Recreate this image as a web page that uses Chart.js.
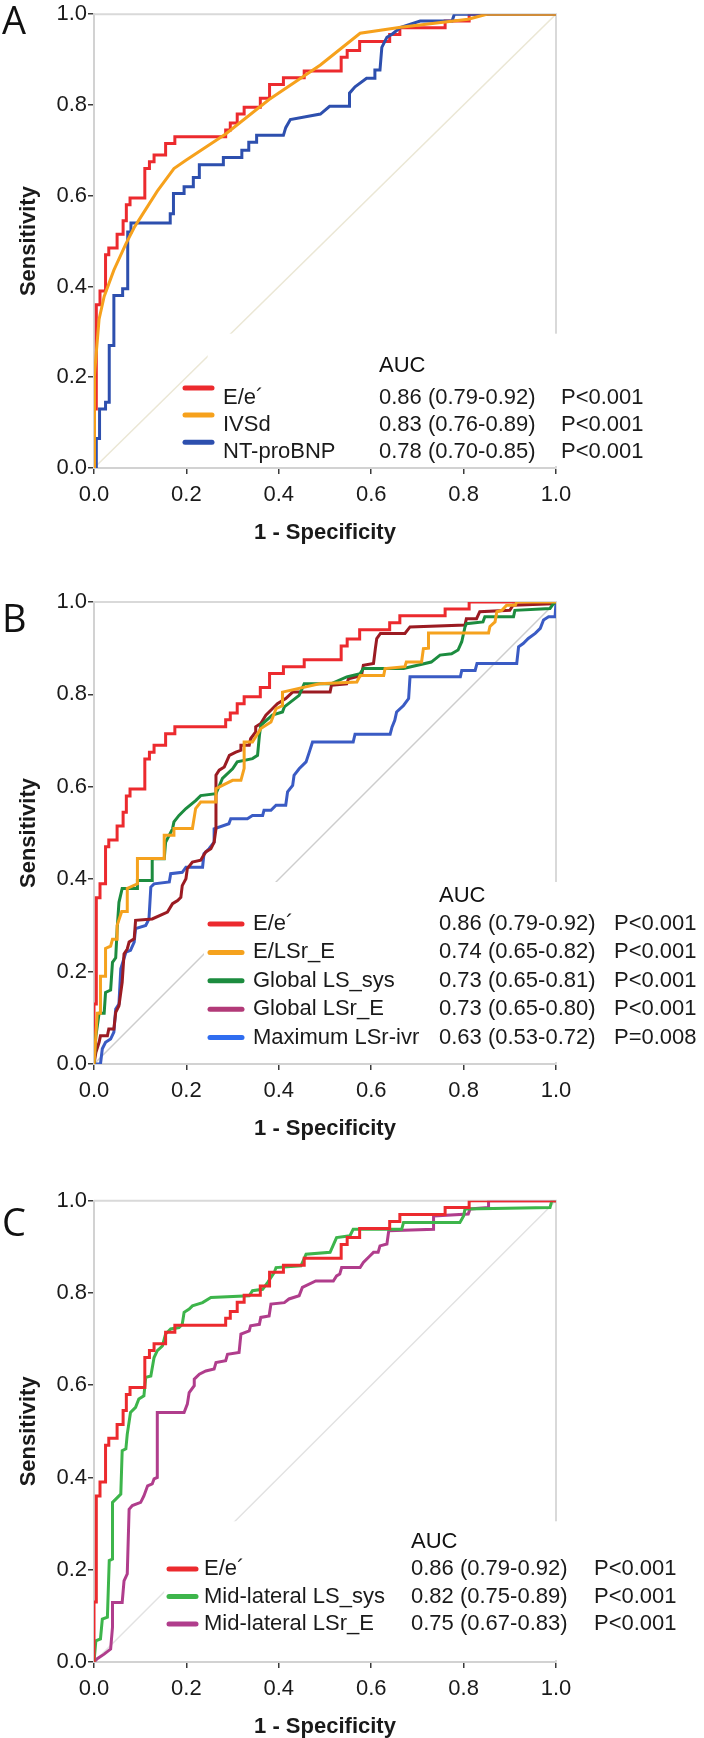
<!DOCTYPE html>
<html>
<head>
<meta charset="utf-8">
<script src="https://cdn.jsdelivr.net/npm/chart.js@4.4.1/dist/chart.umd.min.js"></script>
<style>
  html, body { margin: 0; padding: 0; background: #fff; }
  body { width: 704px; height: 1738px; position: relative; overflow: hidden; }
  canvas { position: absolute; left: 0; }
</style>
</head>
<body>
<canvas id="rocA" width="704" height="548" style="top:0px"></canvas>
<canvas id="rocB" width="704" height="584" style="top:560px"></canvas>
<canvas id="rocC" width="704" height="600" style="top:1142px"></canvas>

<script>
// ---- data ----
const axisTicks = [0, 0.2, 0.4, 0.6, 0.8, 1.0];
const chanceX = [0, 1];
const chanceY = [0, 1];

// E/e' curve, identical in all three panels
const eeX = [0,0,0.005,0.005,0.013,0.013,0.025,0.025,0.032,0.032,0.05,0.05,0.063,0.063,0.07,0.07,0.078,0.078,0.11,0.11,0.12,0.12,0.13,0.13,0.155,0.155,0.175,0.175,0.285,0.285,0.295,0.295,0.31,0.31,0.325,0.325,0.36,0.36,0.38,0.38,0.41,0.41,0.455,0.455,0.535,0.535,0.548,0.548,0.575,0.575,0.64,0.64,0.662,0.662,0.76,0.76,0.812,0.812,1];
const eeY = [0,0.13,0.13,0.36,0.36,0.39,0.39,0.47,0.47,0.485,0.485,0.515,0.515,0.545,0.545,0.58,0.58,0.595,0.595,0.66,0.66,0.675,0.675,0.69,0.69,0.715,0.715,0.73,0.73,0.745,0.745,0.76,0.76,0.78,0.78,0.795,0.795,0.815,0.815,0.845,0.845,0.86,0.86,0.875,0.875,0.905,0.905,0.92,0.92,0.94,0.94,0.955,0.955,0.97,0.97,0.985,0.985,1,1];

// panel A
const ivsdX = [0,0,0.002,0.011,0.022,0.043,0.069,0.087,0.105,0.137,0.173,0.199,0.285,0.379,0.49,0.576,0.664,0.81,0.85,1];
const ivsdY = [0,0.15,0.205,0.328,0.378,0.436,0.494,0.53,0.559,0.61,0.66,0.678,0.736,0.812,0.888,0.958,0.971,0.989,1,1];
const bnpX = [0,0.005,0.005,0.012,0.012,0.025,0.025,0.033,0.033,0.043,0.043,0.062,0.062,0.073,0.073,0.08,0.08,0.165,0.165,0.172,0.172,0.195,0.195,0.215,0.215,0.228,0.228,0.28,0.28,0.32,0.32,0.335,0.335,0.352,0.352,0.41,0.415,0.425,0.49,0.51,0.553,0.553,0.565,0.59,0.608,0.608,0.619,0.623,0.634,0.645,0.664,0.706,0.775,0.78,1];
const bnpY = [0,0,0.065,0.065,0.13,0.13,0.145,0.145,0.27,0.27,0.38,0.38,0.395,0.395,0.52,0.52,0.54,0.54,0.56,0.56,0.605,0.605,0.62,0.62,0.64,0.64,0.668,0.668,0.684,0.684,0.7,0.7,0.718,0.718,0.733,0.733,0.75,0.768,0.78,0.797,0.797,0.826,0.84,0.859,0.859,0.877,0.877,0.927,0.949,0.956,0.971,0.985,0.985,1,1];

// panel B
const elsrX = [0,0.003,0.007,0.014,0.014,0.025,0.025,0.036,0.04,0.05,0.05,0.06,0.072,0.072,0.094,0.094,0.152,0.152,0.173,0.173,0.213,0.22,0.231,0.264,0.264,0.278,0.3,0.318,0.325,0.325,0.343,0.361,0.383,0.394,0.408,0.408,0.488,0.569,0.576,0.627,0.63,0.673,0.676,0.709,0.713,0.724,0.724,0.854,0.857,0.868,0.872,0.883,0.893,0.912,0.915,1];
const elsrY = [0,0.045,0.11,0.11,0.19,0.19,0.25,0.255,0.27,0.27,0.3,0.33,0.33,0.38,0.39,0.445,0.445,0.495,0.495,0.51,0.51,0.553,0.567,0.567,0.596,0.603,0.614,0.614,0.64,0.697,0.697,0.726,0.74,0.769,0.776,0.805,0.823,0.827,0.841,0.841,0.856,0.86,0.87,0.87,0.899,0.9,0.933,0.933,0.947,0.957,0.979,0.982,0.993,0.993,1,1];
const glsX = [0,0.004,0.011,0.022,0.025,0.036,0.04,0.047,0.05,0.054,0.061,0.094,0.094,0.126,0.126,0.152,0.155,0.17,0.173,0.184,0.199,0.22,0.231,0.264,0.278,0.3,0.31,0.343,0.354,0.358,0.361,0.386,0.408,0.412,0.444,0.455,0.513,0.547,0.576,0.583,0.67,0.73,0.749,0.774,0.788,0.796,0.803,0.806,0.842,0.846,0.908,0.911,0.987,0.994,1];
const glsY = [0,0.06,0.11,0.11,0.155,0.16,0.22,0.23,0.29,0.35,0.38,0.38,0.397,0.397,0.444,0.444,0.48,0.509,0.524,0.538,0.553,0.57,0.581,0.585,0.618,0.639,0.654,0.661,0.668,0.711,0.733,0.755,0.762,0.773,0.798,0.823,0.823,0.838,0.845,0.856,0.856,0.87,0.885,0.888,0.896,0.914,0.946,0.953,0.957,0.968,0.968,0.982,0.986,0.996,1];
const glsrX = [0,0.004,0.011,0.014,0.029,0.032,0.043,0.047,0.054,0.058,0.061,0.065,0.072,0.076,0.087,0.09,0.126,0.159,0.17,0.181,0.188,0.191,0.199,0.202,0.213,0.231,0.235,0.242,0.253,0.26,0.264,0.264,0.271,0.282,0.293,0.307,0.318,0.318,0.336,0.339,0.35,0.35,0.361,0.372,0.386,0.397,0.415,0.43,0.511,0.514,0.547,0.551,0.579,0.583,0.605,0.609,0.612,0.62,0.673,0.684,0.803,0.806,0.828,0.835,0.9,0.907,0.993,1];
const glsrY = [0,0.025,0.047,0.061,0.061,0.076,0.076,0.112,0.126,0.155,0.177,0.238,0.249,0.264,0.271,0.311,0.314,0.329,0.347,0.354,0.361,0.386,0.401,0.423,0.437,0.441,0.448,0.459,0.466,0.48,0.509,0.625,0.636,0.643,0.668,0.675,0.679,0.69,0.69,0.704,0.719,0.73,0.737,0.755,0.769,0.78,0.791,0.805,0.805,0.82,0.823,0.834,0.841,0.863,0.867,0.899,0.921,0.932,0.932,0.946,0.95,0.964,0.964,0.979,0.982,0.993,0.996,1];
const ivrX = [0,0.014,0.018,0.025,0.036,0.043,0.047,0.054,0.058,0.069,0.079,0.087,0.09,0.112,0.119,0.123,0.13,0.163,0.166,0.191,0.199,0.235,0.238,0.249,0.26,0.26,0.292,0.296,0.332,0.343,0.365,0.368,0.383,0.394,0.415,0.419,0.43,0.433,0.444,0.459,0.466,0.473,0.561,0.565,0.641,0.645,0.651,0.655,0.67,0.681,0.684,0.793,0.796,0.825,0.829,0.915,0.919,0.929,0.94,0.955,0.966,0.973,0.984,0.998,1];
const ivrY = [0,0,0.033,0.047,0.054,0.069,0.119,0.13,0.206,0.242,0.246,0.264,0.293,0.3,0.314,0.383,0.39,0.394,0.412,0.415,0.426,0.426,0.455,0.466,0.48,0.509,0.52,0.531,0.531,0.538,0.538,0.549,0.549,0.56,0.56,0.589,0.603,0.625,0.639,0.654,0.675,0.697,0.697,0.714,0.714,0.729,0.744,0.762,0.776,0.791,0.838,0.838,0.852,0.852,0.867,0.867,0.903,0.91,0.921,0.932,0.943,0.961,0.968,0.968,1];

// panel C
const mlsX = [0,0.004,0.014,0.018,0.029,0.033,0.04,0.04,0.051,0.058,0.061,0.069,0.072,0.079,0.09,0.097,0.108,0.112,0.123,0.13,0.137,0.148,0.155,0.166,0.184,0.191,0.195,0.206,0.213,0.235,0.253,0.336,0.343,0.365,0.376,0.39,0.394,0.448,0.459,0.511,0.525,0.554,0.561,0.666,0.67,0.792,0.8,0.803,0.987,0.991,1];
const mlsY = [0,0.046,0.05,0.093,0.097,0.22,0.223,0.346,0.357,0.364,0.458,0.462,0.494,0.541,0.552,0.57,0.577,0.617,0.62,0.66,0.675,0.685,0.711,0.722,0.725,0.732,0.758,0.765,0.772,0.779,0.79,0.794,0.805,0.808,0.823,0.844,0.855,0.859,0.884,0.888,0.92,0.924,0.938,0.938,0.953,0.953,0.967,0.982,0.985,1,1];
const mlsrX = [0,0.007,0.022,0.036,0.04,0.04,0.061,0.065,0.072,0.076,0.083,0.101,0.108,0.116,0.126,0.13,0.137,0.137,0.195,0.202,0.206,0.217,0.217,0.228,0.242,0.26,0.264,0.285,0.289,0.314,0.318,0.336,0.339,0.358,0.361,0.379,0.383,0.412,0.422,0.444,0.451,0.48,0.518,0.525,0.532,0.536,0.576,0.583,0.597,0.605,0.615,0.619,0.634,0.638,0.735,0.735,0.81,0.814,0.854,0.854,1];
const mlsrY = [0,0.007,0.017,0.028,0.075,0.129,0.129,0.176,0.191,0.331,0.339,0.346,0.36,0.382,0.386,0.397,0.4,0.541,0.541,0.559,0.584,0.599,0.613,0.624,0.631,0.635,0.649,0.653,0.667,0.671,0.711,0.718,0.729,0.732,0.747,0.75,0.776,0.779,0.787,0.794,0.812,0.826,0.826,0.837,0.841,0.855,0.855,0.866,0.88,0.888,0.888,0.902,0.906,0.935,0.938,0.967,0.971,0.982,0.985,1,1];

// legend texts
const namesA = ['E/e\u00b4', 'IVSd', 'NT-proBNP'];
const aucA = ['0.86 (0.79-0.92)', '0.83 (0.76-0.89)', '0.78 (0.70-0.85)'];
const pA = ['P<0.001', 'P<0.001', 'P<0.001'];
const namesB = ['E/e\u00b4', 'E/LSr_E', 'Global LS_sys', 'Global LSr_E', 'Maximum LSr-ivr'];
const aucB = ['0.86 (0.79-0.92)', '0.74 (0.65-0.82)', '0.73 (0.65-0.81)', '0.73 (0.65-0.80)', '0.63 (0.53-0.72)'];
const pB = ['P<0.001', 'P<0.001', 'P<0.001', 'P<0.001', 'P=0.008'];
const namesC = ['E/e\u00b4', 'Mid-lateral LS_sys', 'Mid-lateral LSr_E'];
const aucC = ['0.86 (0.79-0.92)', '0.82 (0.75-0.89)', '0.75 (0.67-0.83)'];
const pC = ['P<0.001', 'P<0.001', 'P<0.001'];

// ---- drawing ----
const FONT = "'Liberation Sans', Arial, sans-serif";
const INK = '#1a1a1a';
const RED = '#ec2a2e';

const pts = (xs, ys) => xs.map((x, i) => ({ x: x, y: ys[i] }));

// frame, white legend backing, legend and panel letter
const rocPanel = {
    id: 'rocPanel',
    beforeDatasetsDraw(chart) {
        const { ctx, chartArea: a } = chart;
        ctx.save();
        ctx.strokeStyle = '#d9d9d9';
        ctx.lineWidth = 2;
        ctx.beginPath();
        ctx.moveTo(a.left, a.top);
        ctx.lineTo(a.right, a.top);
        ctx.lineTo(a.right, a.bottom);
        ctx.stroke();
        ctx.restore();
    },
    afterDatasetDraw(chart, args, opts) {
        // the chance line is the last dataset, so it is drawn first
        if (args.index !== chart.data.datasets.length - 1) return;
        const { ctx, chartArea: a } = chart;
        const x0 = chart.scales.x.getPixelForValue(opts.box[0]);
        const y0 = chart.scales.y.getPixelForValue(opts.box[1]);
        ctx.save();
        ctx.fillStyle = '#fff';
        ctx.fillRect(x0, y0, chart.width - x0, a.bottom - 2 - y0);
        ctx.restore();
    },
    afterDraw(chart, args, opts) {
        const ctx = chart.ctx;
        const L = opts.legend;
        ctx.save();
        ctx.font = '38px "Open Sans", sans-serif';
        ctx.fillStyle = '#111';
        ctx.textBaseline = 'alphabetic';
        ctx.fillText(opts.letter, 2, opts.letterY);

        ctx.font = '22px ' + FONT;
        ctx.textBaseline = 'middle';
        ctx.fillText('AUC', L.valueX, L.headerY);
        L.names.forEach((name, i) => {
            const y = L.firstY + i * L.step;
            ctx.strokeStyle = L.colors[i];
            ctx.lineWidth = 5;
            ctx.lineCap = 'round';
            ctx.beginPath();
            ctx.moveTo(L.symX[0], y + L.symDy);
            ctx.lineTo(L.symX[1], y + L.symDy);
            ctx.stroke();
            ctx.fillStyle = INK;
            ctx.fillText(name, L.nameX, y);
            ctx.fillText(L.auc[i], L.valueX, y);
            ctx.fillText(L.p[i], L.pX, y);
        });
        ctx.restore();
    }
};

function curve(xs, ys, color) {
    return {
        data: pts(xs, ys),
        borderColor: color,
        borderWidth: 3,
        showLine: true,
        pointRadius: 0,
        tension: 0,
        fill: false
    };
}

function axis(title, isY) {
    return {
        type: 'linear',
        min: 0,
        max: 1,
        afterBuildTicks: s => { s.ticks = axisTicks.map(v => ({ value: v })); },
        afterFit: s => { if (isY) s.width = 94; else s.height = 80; },
        grid: { drawOnChartArea: false, drawTicks: true, tickLength: 6, color: '#3a3a3a', lineWidth: 1.5 },
        border: { display: true, color: '#d2d2d2', width: 2 },
        ticks: {
            color: INK,
            padding: isY ? 1 : 8,
            maxRotation: 0,
            autoSkip: false,
            font: { family: FONT, size: 22 },
            callback: v => v.toFixed(1)
        },
        title: {
            display: true,
            text: title,
            color: INK,
            font: { family: FONT, size: 22, weight: 'bold' },
            padding: isY ? { top: 16, bottom: 0 } : { top: 0, bottom: 2 }
        }
    };
}

function makePanel(id, cfg) {
    const datasets = cfg.curves.concat([{
        data: pts(chanceX, chanceY),
        borderColor: cfg.chanceColor,
        borderWidth: 1.5,
        showLine: true,
        pointRadius: 0,
        fill: false
    }]);
    new Chart(document.getElementById(id), {
        type: 'scatter',
        data: { datasets: datasets },
        options: {
            responsive: false,
            animation: false,
            events: [],
            layout: { padding: { top: cfg.padTop, right: 148, bottom: 0, left: 0 } },
            scales: { x: axis('1 - Specificity', false), y: axis('Sensitivity', true) },
            plugins: {
                legend: { display: false },
                tooltip: { enabled: false },
                rocPanel: { letter: cfg.letter, letterY: cfg.letterY, box: cfg.box, legend: cfg.legend }
            }
        },
        plugins: [rocPanel]
    });
}

// first dataset in each list is drawn on top
makePanel('rocA', {
    letter: 'A', letterY: 34, padTop: 6.5, box: [0.246, 0.296], chanceColor: '#ebe7d5',
    curves: [curve(ivsdX, ivsdY, '#f6a11c'), curve(bnpX, bnpY, '#2d4fae'), curve(eeX, eeY, RED)],
    legend: {
        names: namesA, auc: aucA, p: pA, colors: [RED, '#f6a11c', '#2d4fae'],
        headerY: 366, firstY: 397.5, step: 27.1, symX: [185, 212], symDy: -9.5,
        nameX: 223, valueX: 379, pX: 561
    }
});

makePanel('rocB', {
    letter: 'B', letterY: 72, padTop: 42, box: [0.238, 0.394], chanceColor: '#cdcdcd',
    curves: [curve(elsrX, elsrY, '#f5a21e'), curve(glsX, glsY, '#1c8c3f'), curve(glsrX, glsrY, '#9b1b22'),
             curve(eeX, eeY, RED), curve(ivrX, ivrY, '#3a5bc4')],
    legend: {
        names: namesB, auc: aucB, p: pB, colors: [RED, '#f5a21e', '#1c8c3f', '#b23a78', '#2f6df0'],
        headerY: 336, firstY: 364, step: 28.4, symX: [210, 242], symDy: 0,
        nameX: 253, valueX: 439, pX: 614
    }
});

makePanel('rocC', {
    letter: 'C', letterY: 94, padTop: 58.7, box: [0.152, 0.305], chanceColor: '#e2e2e2',
    curves: [curve(eeX, eeY, RED), curve(mlsX, mlsY, '#3db54b'), curve(mlsrX, mlsrY, '#b03d8c')],
    legend: {
        names: namesC, auc: aucC, p: pC, colors: [RED, '#3db54b', '#b03d8c'],
        headerY: 400, firstY: 427, step: 27.5, symX: [169, 196], symDy: 0,
        nameX: 204, valueX: 411, pX: 594
    }
});
</script>
</body>
</html>
